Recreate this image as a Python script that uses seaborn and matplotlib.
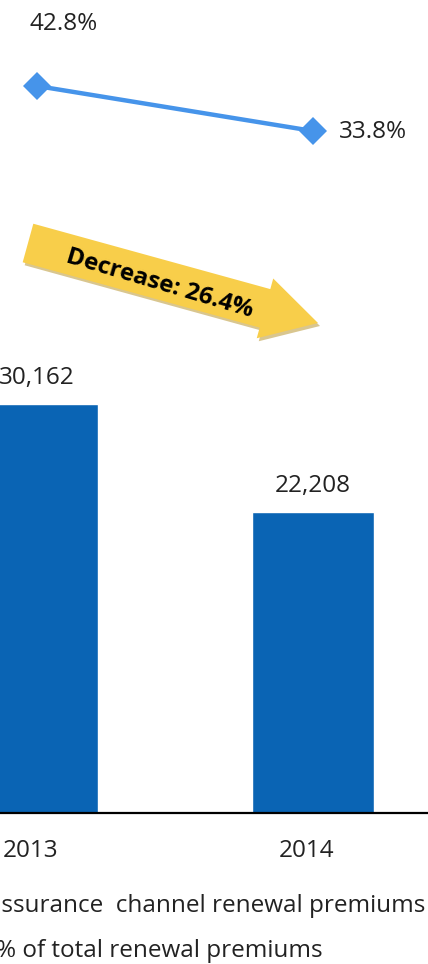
import matplotlib
matplotlib.use("Agg")
import matplotlib.pyplot as plt
import matplotlib.transforms as mtransforms
import seaborn as sns
import pandas as pd
from matplotlib.patches import FancyArrow

# Data
years = ["2013", "2014"]
premiums = [30162, 22208]
share_pct = [42.8, 33.8]
premium_labels = ["30,162", "22,208"]
share_labels = ["42.8%", "33.8%"]
change_text = "Decrease: 26.4%"
legend_bar = "Bancassurance  channel renewal premiums"
legend_line = "% of total renewal premiums"

sns.set_theme(style="white")
plt.rcParams["font.family"] = ["Open Sans", "DejaVu Sans"]

W, H = 428, 964
FS = 17.5
TXT = "#222222"
fig = plt.figure(figsize=(W / 100, H / 100), dpi=100)

base_px = 813  # baseline of the bars, pixels from top
ax = fig.add_axes([0, (H - base_px) / H, 1, base_px / H])
df = pd.DataFrame({"year": years, "premiums": premiums})
sns.barplot(data=df, x="year", y="premiums", color="#0A64B4", width=0.442,
            saturation=1, ax=ax)
ax.set_xlim(-37 / 276, 1 + (W - 313) / 276)
ax.set_ylim(0, base_px * premiums[0] / 409)
for s in ["top", "right", "left"]:
    ax.spines[s].set_visible(False)
ax.spines["bottom"].set_color("black")
ax.spines["bottom"].set_linewidth(1.6)
ax.set_yticks([])
ax.set_xlabel("")
ax.set_ylabel("")
ax.tick_params(axis="x", length=0, pad=19, labelsize=FS, labelcolor=TXT)
shift = mtransforms.ScaledTranslation(-6 / 100, 0, fig.dpi_scale_trans)
for lbl in ax.get_xticklabels():
    lbl.set_transform(lbl.get_transform() + shift)

for i, (v, lab) in enumerate(zip(premiums, premium_labels)):
    ax.annotate(lab, (i, v), xytext=(0, 10), textcoords="offset points",
                ha="center", va="bottom", fontsize=FS, color=TXT)

# Share of total on its own scale
ax2 = ax.twinx()
sns.lineplot(x=[0, 1], y=share_pct, ax=ax2, color="#4694EA", linewidth=3.2,
             marker="D", markersize=14, markeredgewidth=0, legend=False)
ax2.set_ylim(60 - base_px / 5, 60)
ax2.set_xlim(ax.get_xlim())
ax2.axis("off")
ax2.annotate(share_labels[0], (0, share_pct[0]), xytext=(19, 45),
             textcoords="offset points", ha="center", va="center",
             fontsize=FS, color=TXT)
ax2.annotate(share_labels[1], (1, share_pct[1]), xytext=(19, -1),
             textcoords="offset points", ha="left", va="center",
             fontsize=FS, color=TXT)

# Overlay in pixel coordinates for the callout arrow and legend text
ov = fig.add_axes([0, 0, 1, 1], zorder=5)
ov.set_xlim(0, W)
ov.set_ylim(H, 0)
ov.axis("off")
ov.patch.set_alpha(0)

tail = (28, 243)
tip = (318, 323)
dx, dy = tip[0] - tail[0], tip[1] - tail[1]
shadow = FancyArrow(tail[0] + 2, tail[1] + 3, dx, dy, width=40, head_width=62,
                    head_length=55, length_includes_head=True,
                    color="#D9C68F", lw=0)
arrow = FancyArrow(tail[0], tail[1], dx, dy, width=40, head_width=62,
                   head_length=55, length_includes_head=True,
                   color="#F8CE4A", lw=0)
ov.add_patch(shadow)
ov.add_patch(arrow)
ov.text(160, 284, change_text, rotation=-16.5, rotation_mode="anchor",
        ha="center", va="center", fontsize=17.5, fontweight="bold",
        color="black")

ov.text(425, 906, legend_bar, ha="right", va="center", fontsize=FS,
        color=TXT)
ov.text(-4, 951, legend_line, ha="left", va="center", fontsize=FS,
        color=TXT)

fig.savefig("out.png", dpi=100)
